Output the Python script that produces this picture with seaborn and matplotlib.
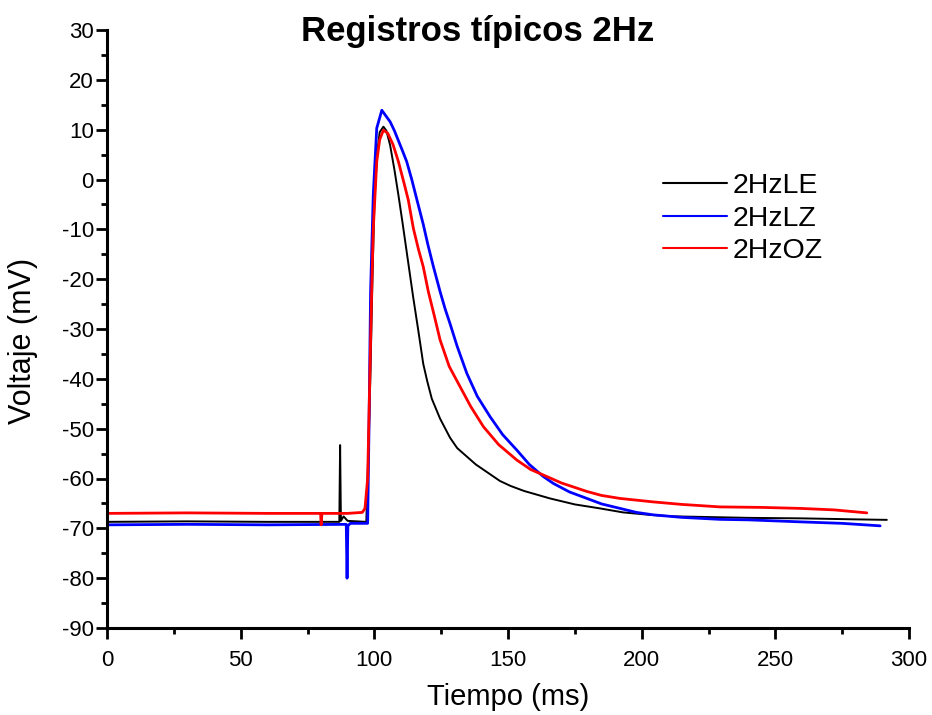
import numpy as np
import pandas as pd
import matplotlib
matplotlib.use("Agg")
import matplotlib.pyplot as plt
import seaborn as sns
from matplotlib.ticker import MultipleLocator

# ---- data ----
t_le = [0, 30, 60, 86.9, 87.2, 87.5, 88.5, 90, 97, 98.5, 99.3, 100.0, 101.0, 102.0,
        103.4, 104.5, 105.9, 107.5, 109.0, 110.5, 112.5, 114.5, 116.5, 118.3, 119.8,
        121.5, 124.6, 128.3, 131, 134.6, 138, 141, 147, 151, 156, 165.7, 175, 184.4,
        193, 203.1, 212, 221.8, 240, 260, 280, 291.7]
v_le = [-68.7, -68.6, -68.7, -68.7, -53.3, -68.5, -67.6, -68.5, -68.7, -40, -20, -5,
        5, 9.5, 10.6, 9.8, 6.9, 2.0, -3.1, -8.5, -16, -23.5, -30.5, -37.0, -40.5,
        -44.0, -48.0, -51.8, -53.9, -55.6, -57.2, -58.3, -60.5, -61.5, -62.5, -64.0,
        -65.2, -66.0, -66.8, -67.3, -67.6, -67.7, -67.9, -68.0, -68.2, -68.3]

t_lz = [0, 30, 60, 89.5, 89.8, 90.1, 91, 97.5, 98.0, 98.6, 99.6, 100.9, 102.8, 104,
        105.9, 107.5, 109, 110.5, 112.1, 114, 115.9, 118.3, 120, 122.1, 124.6, 126.5,
        128.3, 131, 134.6, 138.5, 143.3, 148, 153.3, 158, 163.2, 167, 173, 179.5,
        185, 191.9, 198, 204.4, 215, 229.3, 240, 259.3, 275, 289.2]
v_lz = [-69.3, -69.2, -69.3, -69.2, -80.0, -69.5, -69.0, -69.0, -50, -22.5, -3.1,
        10.3, 13.9, 13.0, 11.6, 9.8, 7.8, 5.8, 3.6, 0.0, -4.0, -9.0, -13.0, -17.5,
        -22.5, -26.0, -28.9, -33.5, -38.9, -43.5, -47.6, -51.2, -54.3, -57.2, -59.6,
        -61.0, -62.7, -64.0, -65.1, -66.0, -66.8, -67.3, -67.8, -68.2, -68.3, -68.7,
        -69.0, -69.5]

t_oz = [0, 30, 60, 79.9, 80.1, 80.4, 90, 95.5, 96.5, 97.5, 98.5, 99.0, 99.6, 100.9,
        102.0, 103.4, 105, 107, 109.0, 111, 112.7, 114.6, 116.5, 118.3, 120.2, 122.5,
        124.6, 128, 132.1, 136, 140.8, 146.5, 153.3, 158.5, 164.5, 170, 179.5, 185,
        191.9, 204.4, 215, 229.3, 245, 259.3, 272, 284.2]
v_oz = [-67.0, -66.9, -67.0, -67.0, -69.3, -67.0, -67.0, -66.8, -66.0, -60, -35,
        -22.5, -10, 3.6, 8, 9.9, 9.3, 7, 3.6, -0.5, -4.1, -9.8, -14.0, -17.5, -22.5,
        -27.5, -32.2, -37.5, -41.6, -45.5, -49.6, -53.2, -56.3, -58.2, -59.6, -60.9,
        -62.6, -63.4, -64.0, -64.7, -65.2, -65.7, -65.8, -66.0, -66.3, -66.9]

labels = ["2HzLE", "2HzLZ", "2HzOZ"]
colors = ["#000000", "#0000ff", "#ff0000"]

sns.set_style("ticks")
plt.rcParams["font.family"] = ["Liberation Sans", "DejaVu Sans"]
plt.rcParams["axes.unicode_minus"] = False
for k in ["text.color", "axes.labelcolor", "xtick.color", "ytick.color", "axes.edgecolor"]:
    plt.rcParams[k] = "black"

fig = plt.figure(figsize=(9.32, 7.15), dpi=100)
ax = fig.add_axes([107/932, 1 - 628/715, (909-107)/932, (628-30)/715])

series = [(t_le, v_le, 1.4), (t_lz, v_lz, 2.0), (t_oz, v_oz, 2.0)]
for (t, v, lw), lab, c in zip(series, labels, colors):
    df = pd.DataFrame({"t": t, "v": v})
    sns.lineplot(data=df, x="t", y="v", ax=ax, color=c, lw=lw, label=lab,
                 sort=False, estimator=None)

ax.set_xlim(0, 300)
ax.set_ylim(-90, 30)
ax.xaxis.set_major_locator(MultipleLocator(50))
ax.xaxis.set_minor_locator(MultipleLocator(25))
ax.yaxis.set_major_locator(MultipleLocator(10))
ax.yaxis.set_minor_locator(MultipleLocator(5))
ax.tick_params(which="major", length=8, width=2, labelsize=16, direction="out")
ax.tick_params(axis="x", which="major", pad=8)
ax.tick_params(axis="y", which="major", pad=1.5)
ax.tick_params(which="minor", length=4.5, width=2, direction="out")
for s in ["top", "right"]:
    ax.spines[s].set_visible(False)
for s in ["left", "bottom"]:
    ax.spines[s].set_linewidth(2.2)

ax.set_xlabel("Tiempo (ms)", fontsize=21, va="center", ha="center")
ax.set_ylabel("Voltaje (mV)", fontsize=22, va="center", ha="center")
ax.xaxis.set_label_coords(0.5, -(697 - 628) / 598)
ax.yaxis.set_label_coords((23 - 107) / 802, (628 - 341) / 598)

fig.text(478/932, 1 - 32/715, "Registros típicos 2Hz", fontsize=25, fontweight="bold",
         ha="center", va="center")

leg = ax.legend(loc="upper left", bbox_to_anchor=(663/932, 1 - 173/715),
                bbox_transform=fig.transFigure, frameon=False, fontsize=20.5,
                handlelength=2.25, handletextpad=0.2, labelspacing=0.23,
                borderaxespad=0, borderpad=0)
for line in leg.get_lines():
    line.set_linewidth(1.5)

fig.savefig("out.png", dpi=100)
